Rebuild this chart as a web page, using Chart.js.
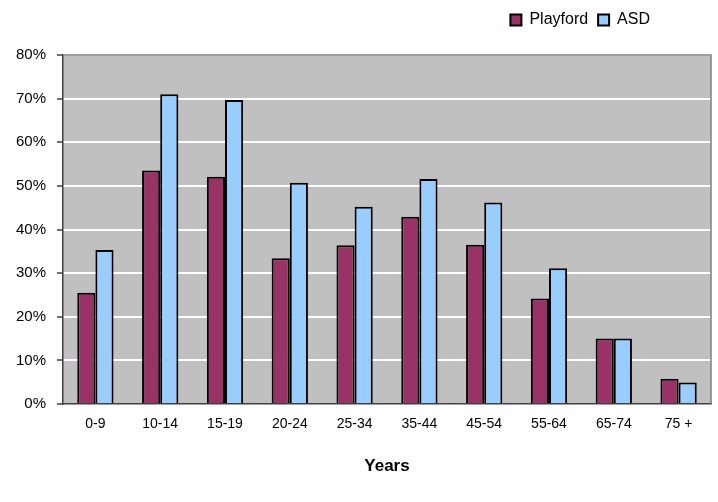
<!DOCTYPE html>
<html>
<head>
<meta charset="utf-8">
<script src="https://cdn.jsdelivr.net/npm/chart.js@4"></script>
<style>
  html, body { margin: 0; padding: 0; background: #fff; }
  #wrap { width: 718px; height: 502px; }
</style>
</head>
<body>
<div id="wrap"><canvas id="myChart" width="718" height="502"></canvas></div>
<script>
"use strict";

var ageGroups = ["0-9", "10-14", "15-19", "20-24", "25-34", "35-44", "45-54", "55-64", "65-74", "75 +"];
var playford = [25.5, 53.5, 52.1, 33.4, 36.4, 42.9, 36.5, 24.2, 15.0, 5.8];
var asd = [35.3, 71.0, 69.7, 50.7, 45.2, 51.6, 46.2, 31.1, 15.0, 4.9];

// grey plot area with the darker frame on top and right
var plotBackground = {
    id: 'plotBackground',
    beforeInit: function(chart) {
        // extra room under the legend
        var fit = chart.legend.fit;
        chart.legend.fit = function() {
            fit.call(this);
            this.height += 17;
        };
    },
    afterLayout: function(chart) {
        // legend sits a bit in from the right edge
        chart.legend.right -= 51;
    },
    beforeDraw: function(chart) {
        var a = chart.chartArea, ctx = chart.ctx;
        ctx.save();
        ctx.fillStyle = '#C0C0C0';
        ctx.fillRect(a.left, a.top, a.right - a.left, a.bottom - a.top);
        ctx.restore();
    },
    afterDatasetsDraw: function(chart) {
        var a = chart.chartArea, ctx = chart.ctx;
        ctx.save();
        ctx.strokeStyle = '#808080';
        ctx.lineWidth = 1.5;
        ctx.beginPath();
        ctx.moveTo(a.left, a.top);
        ctx.lineTo(a.right, a.top);
        ctx.lineTo(a.right, a.bottom);
        ctx.stroke();
        ctx.restore();
    }
};

var myChart = document.getElementById('myChart').getContext('2d');
var chart = new Chart(myChart, {
    type: 'bar',
    data: {
        labels: ageGroups,
        datasets: [{
            label: "Playford",
            backgroundColor: '#993366',
            borderColor: '#000000',
            borderWidth: 2,
            data: playford,
        },
        {
            label: "ASD",
            backgroundColor: '#99CCFF',
            borderColor: '#000000',
            borderWidth: 2,
            data: asd,
        }]
    },
    plugins: [plotBackground],
    options: {
        responsive: false,
        animation: false,
        layout: { padding: { top: 2, right: 7, left: 0, bottom: 0 } },
        datasets: {
            bar: { categoryPercentage: 0.56, barPercentage: 1.0 }
        },
        plugins: {
            legend: {
                position: 'top',
                align: 'end',
                labels: {
                    color: '#000',
                    boxWidth: 11,
                    boxHeight: 11,
                    padding: 10,
                    font: { family: "'Liberation Sans', Arial, sans-serif", size: 16 }
                }
            },
            tooltip: { enabled: false }
        },
        scales: {
            x: {
                grid: { display: false },
                border: { display: true, color: '#404040', width: 1.5 },
                ticks: {
                    color: '#000',
                    padding: 4,
                    maxRotation: 0,
                    font: { family: "'Liberation Sans', Arial, sans-serif", size: 14 }
                },
                title: {
                    display: true,
                    text: 'Years',
                    color: '#000',
                    padding: { top: 4, bottom: 25 },
                    font: { family: "'Liberation Sans', Arial, sans-serif", size: 17, weight: 'bold' }
                },
                afterFit: function(scale) { scale.height = 98; }
            },
            y: {
                min: 0,
                max: 80,
                ticks: {
                    stepSize: 10,
                    color: '#000',
                    padding: 11,
                    font: { family: "'Liberation Sans', Arial, sans-serif", size: 15 },
                    callback: function(v) { return v + '%'; }
                },
                grid: {
                    color: '#FFFFFF',
                    lineWidth: 2,
                    tickLength: 6,
                    tickColor: '#404040',
                    tickWidth: 1.5
                },
                border: { display: true, color: '#404040', width: 1.5 },
                afterFit: function(scale) { scale.width = 63; }
            }
        }
    }
});
</script>
</body>
</html>
